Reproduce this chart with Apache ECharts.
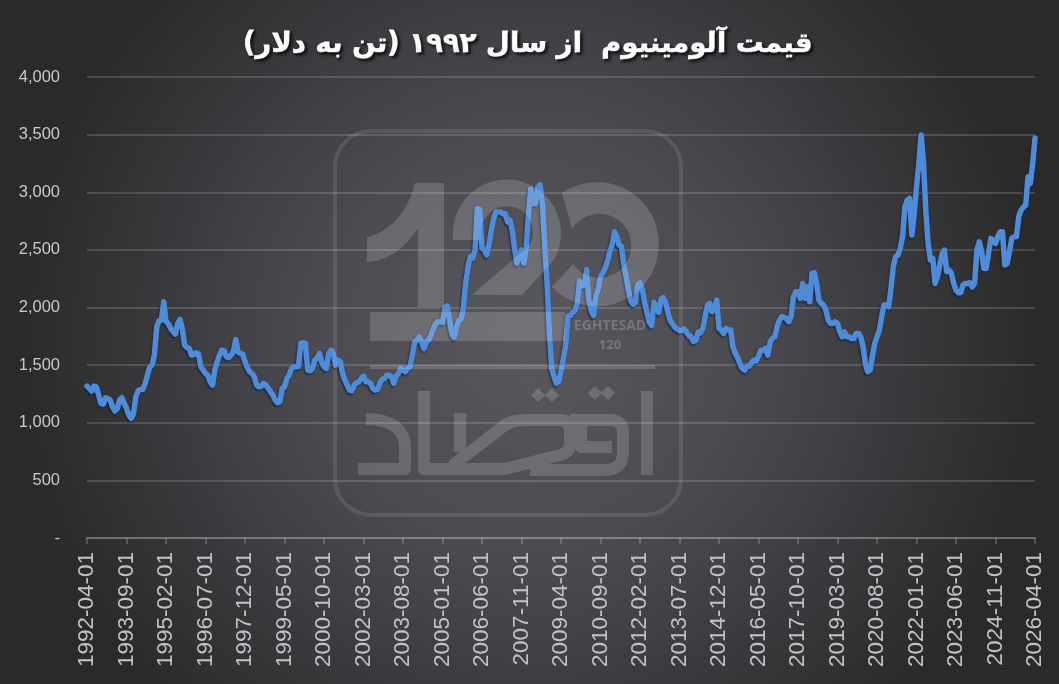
<!DOCTYPE html>
<html lang="fa">
<head>
<meta charset="utf-8">
<title>قیمت آلومینیوم</title>
<script src="https://cdn.jsdelivr.net/npm/echarts@6/dist/echarts.min.js"></script>
<style>html,body{margin:0;padding:0;background:#2b2b2b}#chart{width:1059px;height:684px}</style>
</head>
<body>
<div id="chart"></div>
<script>
// Monthly aluminium price, USD per tonne, from 1992-04 onward
const firstYear = 1992, firstMonth = 4;
const prices1992 = [1318,1298,1275,1318,1312,1240,1168,1162,1217,1210,1196,1139,1104,1124,1196,1217,1168,1124,1066,1038,1080,1225,1277,1289,1289,1341,1413,1485,1500,1587,1832,1884,1890,2050];
const prices1995 = [1880,1860,1818,1790,1769,1860,1896,1818,1673,1653,1645,1587,1592,1607,1595,1485,1457,1428,1413,1355,1327,1457,1529,1587,1630,1624,1572,1566,1587,1615,1722,1615,1601,1595,1529,1480,1442,1428,1399,1327,1312,1318,1341,1327,1298,1269,1240,1196,1173,1182,1298,1312,1384,1413,1471,1485,1485,1490,1688,1694,1688,1457,1451,1471,1543,1558,1601,1529,1485,1471,1601,1630,1601,1500,1543,1529,1428,1370,1327,1283,1277,1327,1347,1355,1384,1405,1355,1355,1341,1298,1283,1289,1341,1376,1384,1413,1413,1400,1343,1400];
const prices2003 = [1429,1471,1457,1443,1471,1486,1586,1700,1714,1743,1700,1643,1700,1714,1757,1814,1857,1877,1877,1871,2000,2014,1900,1771,1743,1829,1886,1900,2000,2214,2357,2443,2429,2500,2857,2850,2514,2500,2457,2543,2671,2771,2829,2829,2829,2814,2814,2743,2757,2671,2514,2386,2457,2500,2386,2514,2814,3029,2900,2900,3043,3066,2900,2529,2214,1786,1471,1400,1343,1357,1443,1557,1671,1929,1929,1957,1971,2043,2229,2186,2200,2329,2057,1971,1929,2100,2157,2271,2300,2343,2400,2486,2543,2657,2614,2543,2529,2371,2271,2157,2057,2029,2043,2200,2214,2157,2043,1957,1871,1843,2043,2014,1957,2071,2086,2043,1957,1886,1857,1829,1814,1800,1800,1814,1786,1757,1743,1706,1714,1786];
const prices2014 = [1780,1818,1920,2021,2035,1963,1992,2064,1818,1804,1775,1818,1804,1804,1659,1601,1566,1514,1471,1457,1491,1491,1520,1543,1537,1578,1630,1630,1645,1587,1703,1731,1746,1833,1890,1920,1914,1905,1876,1920,2093,2137,2137,2079,2209,2079,2180,2050,2296,2301,2209,2064,2035,2021,1977,1890,1862,1862,1876,1862,1789,1746,1789,1746,1746,1731,1731,1775,1775,1746,1659,1514,1442,1457,1572,1688,1746,1804,1920,2021,2021,2006,2165,2354,2441,2455,2513,2614,2875,2932,2947,2628,2817,3048,3250];
const prices2022 = [3497,3260,2840,2556,2411,2426,2209,2267,2368,2469,2498,2310,2325,2296,2209,2151,2128,2128,2194,2209,2209,2215,2180,2209,2498,2570,2484,2339,2339,2469,2600,2585,2556,2614,2657,2657,2368,2382,2484,2600,2614,2614,2788,2846,2869,2890,3135,3077,3250,3470];
const prices = [...prices1992, ...prices1995, ...prices2003, ...prices2014, ...prices2022];

const months = prices.map((_, i) => {
  const m = firstMonth - 1 + i;
  const y = firstYear + Math.floor(m / 12);
  return y + '-' + String(m % 12 + 1).padStart(2, '0') + '-01';
});

const yTickMax = 4000, yTickStep = 500, labelEvery = 17;
const titleText = 'قیمت آلومینیوم  از سال ۱۹۹۲ (تن به دلار)';
const brandEn = 'EGHTESAD', brandNum = '120';

const wm = 'rgba(255,255,255,0.16)';

// Publisher logo: numerals as filled outlines, the wordmark as one stroked path
const logoPaths = {
  logoOne: 'M415 183 L444 183 L444 307 L418 307 L418 228 C405 248 388 261 367 262 L367 237 C390 232 408 212 415 183 Z',
  logoTwo: 'M453 240 L453 233 A54 54 0 1 1 554 260 L522 295 L472 295 L529 246 A26 26 0 1 0 481 233 L481 240 Z',
  logoZero: 'M562 193 A62 62 0 1 1 552 287 L573 264 A32 32 0 1 0 572 229 Z',
  logoWord: 'M366 419 C392 419 405 430 405 448 L405 469 L358 469 M424 391 L424 469 L 505 469 L560 455 Q570 452 570 445 L570 432 Q570 420 560 420 L525 420 Q512 420 505 425 L452 466 M460 413 L460 452 M570 420 L610 420 Q623 420 623 432 L623 452 Q623 470 605 470 L530 470 M581 420 L581 447 L612 447 M647 391 L647 475',
  logoDots: 'M538 388 L545 395 L538 402 L531 395 Z M552 388 L559 395 L552 402 L545 395 Z M595 386 L602 393 L595 400 L588 393 Z M608 386 L615 393 L608 400 L601 393 Z'
};
Object.keys(logoPaths).forEach(name => {
  echarts.graphic.registerShape(name, echarts.graphic.extendPath(logoPaths[name], {}));
});

const chart = echarts.init(document.getElementById('chart'));
chart.setOption({
  animation: false,
  backgroundColor: {
    type: 'radial', x: 0.5, y: 0.5, r: 0.75,
    colorStops: [
      { offset: 0, color: '#59585f' },
      { offset: 0.4, color: '#4c4b52' },
      { offset: 0.64, color: '#3e3e43' },
      { offset: 0.84, color: '#333335' },
      { offset: 1, color: '#2a2a2a' }
    ]
  },
  title: {
    text: titleText, left: 243, top: 31, padding: 0,
    textStyle: {
      fontFamily: '"DejaVu Sans"', fontWeight: 'bold', fontSize: 27.5, color: '#ffffff',
      textBorderColor: '#ffffff', textBorderWidth: 0.8,
      textShadowColor: 'rgba(0,0,0,0.75)', textShadowBlur: 3, textShadowOffsetX: 2, textShadowOffsetY: 2
    }
  },
  grid: { left: 87, right: 24, top: 77, bottom: 146, containLabel: false },
  xAxis: {
    type: 'category', data: months, boundaryGap: false,
    axisLine: { lineStyle: { color: 'rgba(255,255,255,0.25)', width: 1.5 } },
    axisTick: { show: true, interval: labelEvery - 1, length: 6, lineStyle: { color: 'rgba(255,255,255,0.25)', width: 1.5 } },
    axisLabel: {
      interval: labelEvery - 1, rotate: 90, margin: 14, fontSize: 22.5,
      fontFamily: '"Liberation Sans"', color: '#c2c2c6', showMaxLabel: true
    },
    splitLine: { show: false }
  },
  yAxis: {
    type: 'value', min: 0, max: yTickMax, interval: yTickStep,
    axisLine: { show: false }, axisTick: { show: false },
    axisLabel: {
      margin: 27, fontSize: 16.5, fontFamily: '"Liberation Sans"', color: '#c9c9cc',
      formatter: v => v === 0 ? '-' : v.toLocaleString('en-US')
    },
    splitLine: { lineStyle: { color: 'rgba(255,255,255,0.2)', width: 1.5 } }
  },
  series: [{
    type: 'line', data: prices, showSymbol: false, smooth: false, z: 5,
    lineStyle: {
      color: '#4f8bd6', width: 5.5, join: 'round', cap: 'round',
      shadowColor: 'rgba(15,35,70,0.8)', shadowBlur: 2, shadowOffsetX: -1, shadowOffsetY: 1.5
    }
  }],
  graphic: { elements: [
    { type: 'rect', silent: true, z: 100,
      shape: { x: 335, y: 131, width: 346, height: 384, r: 36 },
      style: { fill: 'none', stroke: 'rgba(255,255,255,0.1)', lineWidth: 4 } },
    { type: 'logoOne', silent: true, z: 100, style: { fill: wm } },
    { type: 'logoTwo', silent: true, z: 100, style: { fill: wm } },
    { type: 'logoZero', silent: true, z: 100, style: { fill: wm } },
    { type: 'rect', silent: true, z: 100, shape: { x: 370, y: 312, width: 195, height: 29 }, style: { fill: wm } },
    { type: 'rect', silent: true, z: 100, shape: { x: 370, y: 365, width: 285, height: 4 }, style: { fill: wm } },
    { type: 'text', silent: true, z: 100, x: 610, y: 326,
      style: { text: brandEn, fill: 'rgba(255,255,255,0.2)', font: 'bold 14px "Open Sans"', align: 'center', verticalAlign: 'middle' } },
    { type: 'text', silent: true, z: 100, x: 610, y: 345,
      style: { text: brandNum, fill: 'rgba(255,255,255,0.2)', font: 'bold 13px "Open Sans"', align: 'center', verticalAlign: 'middle' } },
    { type: 'logoWord', silent: true, z: 100, style: { fill: 'none', stroke: wm, lineWidth: 12, lineJoin: 'round' } },
    { type: 'logoDots', silent: true, z: 100, style: { fill: wm } }
  ] }
});
</script>
</body>
</html>
